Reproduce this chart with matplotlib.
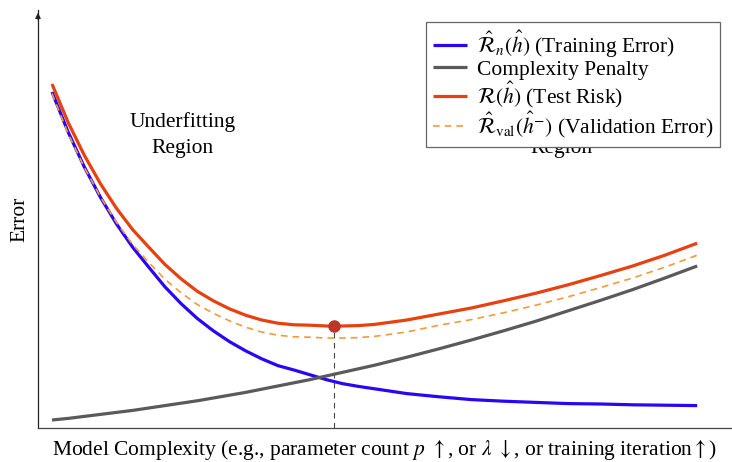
import numpy as np
import matplotlib.pyplot as plt

# ==========================================
# DATA
# ==========================================
complexity = [0, 0.25, 0.5, 0.75, 1.0, 1.25, 1.5, 1.75, 2.0, 2.25, 2.5, 2.75, 3.0,
              3.25, 3.5, 3.75, 4.0, 4.25, 4.5, 4.75, 5.0, 5.5, 6.0, 6.5, 7.0, 7.5,
              8.0, 8.5, 9.0, 9.5, 10.0]

train_err = [8.40, 7.40, 6.53, 5.77, 5.10, 4.52, 4.02, 3.53, 3.11, 2.74, 2.43, 2.16, 1.93,
             1.73, 1.56, 1.45, 1.33, 1.21, 1.11, 1.04, 0.98, 0.86, 0.78, 0.71, 0.67, 0.64,
             0.61, 0.60, 0.58, 0.57, 0.56]
penalty = [0.20, 0.24, 0.29, 0.34, 0.39, 0.44, 0.50, 0.56, 0.62, 0.68, 0.75, 0.82, 0.89,
           0.97, 1.05, 1.13, 1.21, 1.30, 1.39, 1.48, 1.57, 1.77, 1.98, 2.20, 2.43, 2.67,
           2.93, 3.19, 3.46, 3.75, 4.05]
test_risk = [8.60, 7.64, 6.82, 6.11, 5.49, 4.96, 4.52, 4.09, 3.73, 3.42, 3.18, 2.98, 2.82,
             2.70, 2.62, 2.58, 2.57, 2.55, 2.55, 2.56, 2.59, 2.70, 2.85, 3.00, 3.18, 3.37,
             3.58, 3.81, 4.05, 4.32, 4.62]
val_err = [8.36, 7.36, 6.52, 5.78, 5.14, 4.59, 4.14, 3.72, 3.38, 3.09, 2.87, 2.68, 2.52,
           2.40, 2.32, 2.28, 2.27, 2.25, 2.25, 2.26, 2.29, 2.40, 2.57, 2.71, 2.88, 3.07,
           3.28, 3.51, 3.75, 4.02, 4.32]

opt_x = 4.37
opt_y = 2.55

labels = [
    r"$\hat{\mathcal{R}}_n(\hat{h})$ (Training Error)",
    "Complexity Penalty",
    r"$\mathcal{R}(\hat{h})$ (Test Risk)",
    r"$\hat{\mathcal{R}}_{\mathrm{val}}(\hat{h}^{-})$ (Validation Error)",
]

# ==========================================
# STYLE
# ==========================================
plt.rcParams["font.family"] = ["Liberation Serif", "DejaVu Serif"]
plt.rcParams["mathtext.fontset"] = "stix"
FS = 15.5

C_BLUE = "#2a06f7"
C_GRAY = "#5a5a5a"
C_RED = "#e8400e"
C_ORANGE = "#f39a3c"
C_DOT = "#bf3527"

fig = plt.figure(figsize=(7.32, 4.62), dpi=100)
ax = fig.add_axes([38 / 732, 34 / 462, 694 / 732, 418 / 462])

ax.plot(complexity, train_err, color=C_BLUE, lw=2.3, label=labels[0], solid_capstyle="butt")
ax.plot(complexity, penalty, color=C_GRAY, lw=2.3, label=labels[1], solid_capstyle="butt")
ax.plot(complexity, test_risk, color=C_RED, lw=2.3, label=labels[2], solid_capstyle="butt")
ax.plot(complexity, val_err, color=C_ORANGE, lw=1.2, ls=(0, (4, 3)), label=labels[3])

# optimum marker + drop line
ax.plot([opt_x, opt_x], [0, opt_y], color="#444444", lw=0.8, ls=(0, (5, 4)), zorder=1)
ax.plot(opt_x, opt_y, "o", color=C_DOT, ms=8, zorder=6)

# region annotations
ax.text(2.03, 7.32, "Underfitting\nRegion", ha="center", va="center", fontsize=FS,
        linespacing=1.5)
ax.text(7.9, 7.32, "Overfitting\nRegion", ha="center", va="center", fontsize=FS,
        linespacing=1.5, zorder=2)

ax.set_xlim(-0.217, 10.54)
ax.set_ylim(0, 10.45)
ax.set_xticks([])
ax.set_yticks([])
for side in ["top", "right"]:
    ax.spines[side].set_visible(False)
ax.spines["left"].set_color("#222222")
ax.spines["bottom"].set_color("#444444")
ax.spines["left"].set_linewidth(0.9)
ax.spines["bottom"].set_linewidth(0.9)

# arrow on top of the y axis
ax.annotate("", xy=(0, 1.0), xytext=(0, 0.97), xycoords="axes fraction",
            arrowprops=dict(arrowstyle="-|>", color="#222222", lw=0.8,
                            mutation_scale=8))

ax.set_ylabel("Error", fontsize=FS, labelpad=6)
ax.set_xlabel(r"Model Complexity (e.g., parameter count $p$ $\uparrow$, or $\lambda$ $\downarrow$, "
              r"or training iteration$\uparrow$)", fontsize=FS, labelpad=7)

leg = ax.legend(loc="upper right", bbox_to_anchor=(0.983, 0.971), borderaxespad=0,
                fontsize=FS, frameon=True, fancybox=False, framealpha=1,
                edgecolor="#666666", handlelength=1.6, handletextpad=0.45,
                labelspacing=0.0, borderpad=0.3)
leg.get_frame().set_linewidth(0.9)
leg.set_zorder(10)

fig.savefig("out.png", dpi=100)
